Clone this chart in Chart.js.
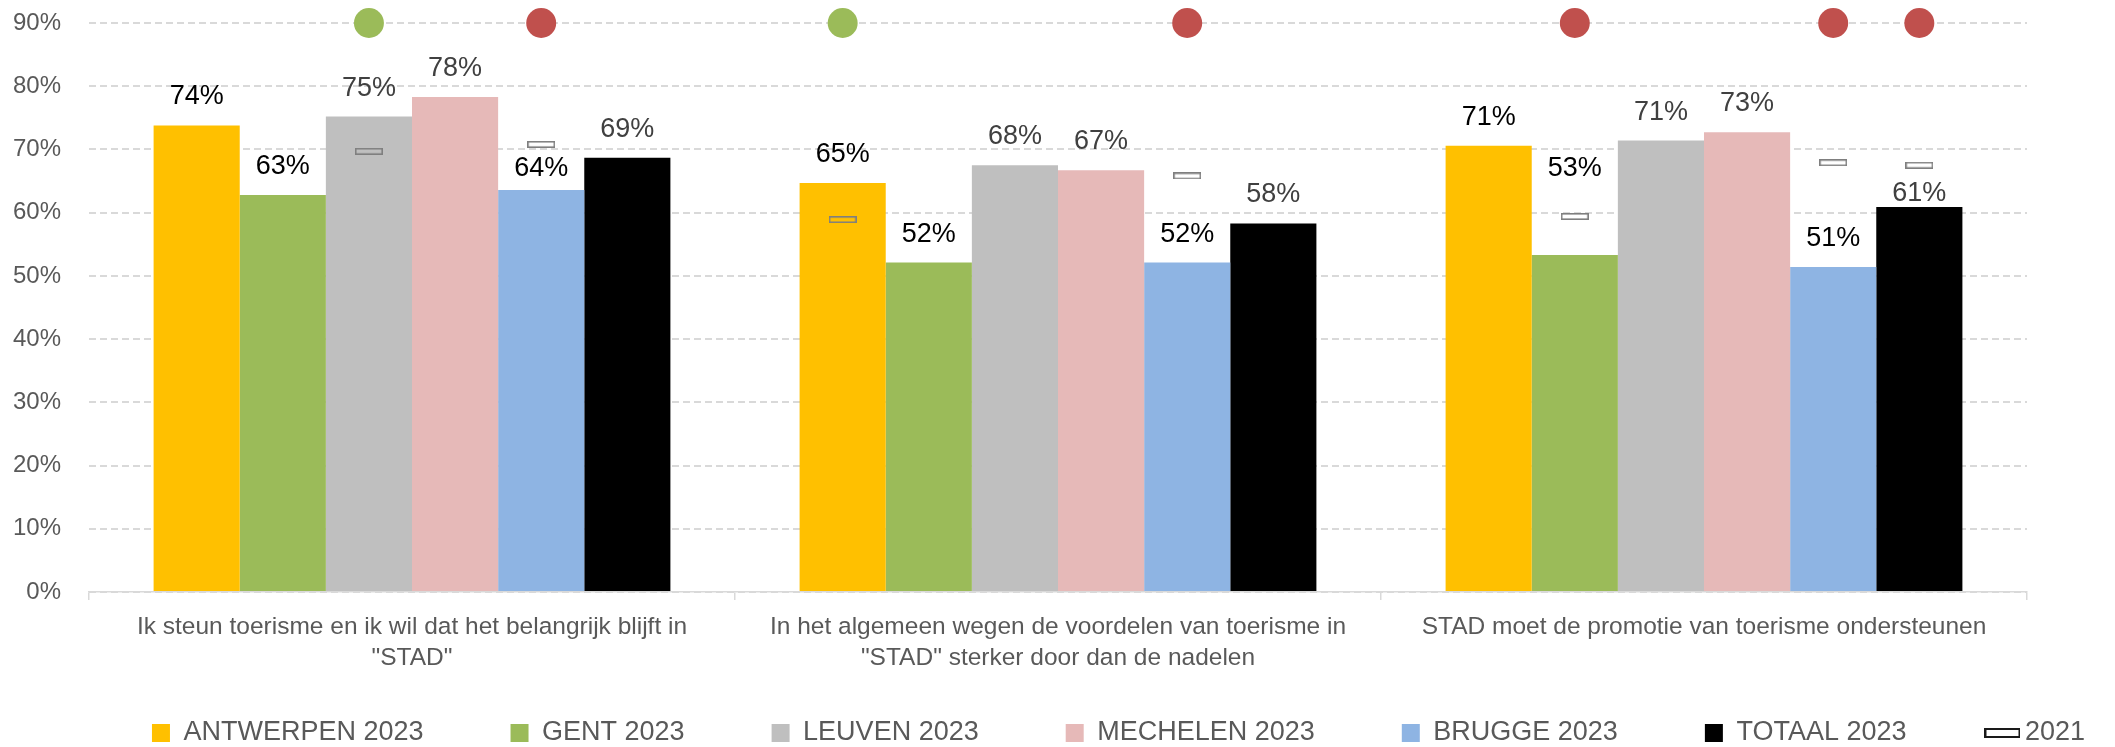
<!DOCTYPE html>
<html>
<head>
<meta charset="utf-8">
<title>Toerisme draagvlak</title>
<script src="https://cdn.jsdelivr.net/npm/chart.js@4.4.1/dist/chart.umd.min.js"></script>
<style>
  html, body { margin: 0; padding: 0; background: #ffffff; }
</style>
</head>
<body>
<canvas id="statsChart" width="2115" height="747"></canvas>
<script>
// categories (x axis, wrapped like in the original)
const categories = [
  ['Ik steun toerisme en ik wil dat het belangrijk blijft in', '"STAD"'],
  ['In het algemeen wegen de voordelen van toerisme in', '"STAD" sterker door dan de nadelen'],
  'STAD moet de promotie van toerisme ondersteunen'
];
const seriesNames = ['ANTWERPEN 2023', 'GENT 2023', 'LEUVEN 2023', 'MECHELEN 2023', 'BRUGGE 2023', 'TOTAAL 2023'];
const refName = '2021';

// 2023 scores in %
const antwerpen = [73.8, 64.7, 70.6];
const gent = [62.8, 52.1, 53.3];
const leuven = [75.2, 67.5, 71.4];
const mechelen = [78.3, 66.7, 72.7];
const brugge = [63.6, 52.1, 51.4];
const totaal = [68.7, 58.3, 60.9];

// 2021 reference (only where shown)
const antwerpen2021 = [null, 58.9, null];
const gent2021 = [null, null, 59.4];
const leuven2021 = [69.7, null, null];
const mechelen2021 = [null, null, null];
const brugge2021 = [70.8, 65.8, 67.9];
const totaal2021 = [null, null, 67.5];

// significant change vs 2021: 1 = up, -1 = down
const antwerpenSig = [0, 1, 0];
const gentSig = [0, 0, -1];
const leuvenSig = [1, 0, 0];
const mechelenSig = [0, 0, 0];
const bruggeSig = [-1, -1, -1];
const totaalSig = [0, 0, -1];

const yTicks = [0, 10, 20, 30, 40, 50, 60, 70, 80, 90];

const values2023 = [antwerpen, gent, leuven, mechelen, brugge, totaal];
const values2021 = [antwerpen2021, gent2021, leuven2021, mechelen2021, brugge2021, totaal2021];
const sigFlags = [antwerpenSig, gentSig, leuvenSig, mechelenSig, bruggeSig, totaalSig];

const barColors = ['#FFC000', '#9BBB59', '#BFBFBF', '#E6B9B8', '#8EB4E3', '#000000'];
const labelColors = ['#000000', '#000000', '#404040', '#404040', '#000000', '#404040'];
const FONT = "'Liberation Sans', Arial, sans-serif";
// a few labels that were moved by hand in the original
const labelLift = { '4-0': 14, '1-2': 79, '5-2': 6 };

// little hollow rectangle used for the 2021 value
const makeMarker = (w, h, color, lw, fill) => {
  const c = document.createElement('canvas');
  c.width = w; c.height = h;
  const g = c.getContext('2d');
  if (fill) { g.fillStyle = fill; g.fillRect(0, 0, w, h); }
  g.strokeStyle = color;
  g.lineWidth = lw;
  g.strokeRect(lw / 2, lw / 2, w - lw, h - lw);
  return c;
};
const chartMarker = makeMarker(28, 7, '#7F7F7F', 1.6, null);
const legendMarker = makeMarker(36, 10, '#1a1a1a', 2, '#ffffff');

// 2021 markers + significance dots, placed on the bars of each series
const refMarks = {
  id: 'refMarks',
  afterDatasetsDraw(chart) {
    const ctx = chart.ctx;
    const y = chart.scales.y;
    const top = y.getPixelForValue(yTicks[yTicks.length - 1]);
    ctx.save();
    values2023.forEach((vals, k) => {
      chart.getDatasetMeta(k).data.forEach((bar, i) => {
        const ref = values2021[k][i];
        if (ref !== null) {
          const py = y.getPixelForValue(ref);
          ctx.drawImage(chartMarker, bar.x - chartMarker.width / 2, py - chartMarker.height / 2);
        }
        const f = sigFlags[k][i];
        if (f !== 0) {
          ctx.fillStyle = f > 0 ? '#9BBB59' : '#C0504D';
          ctx.beginPath();
          ctx.arc(bar.x, top, 15, 0, Math.PI * 2);
          ctx.fill();
        }
      });
    });
    ctx.restore();
  }
};

const barLabels = {
  id: 'barLabels',
  afterDatasetsDraw(chart) {
    const ctx = chart.ctx;
    ctx.save();
    ctx.font = '27px ' + FONT;
    ctx.textAlign = 'center';
    ctx.textBaseline = 'alphabetic';
    values2023.forEach((vals, k) => {
      chart.getDatasetMeta(k).data.forEach((bar, i) => {
        const lift = labelLift[k + '-' + i] ?? 21;
        ctx.fillStyle = labelColors[k];
        ctx.fillText(Math.round(vals[i]) + '%', bar.x, bar.y - lift);
      });
    });
    ctx.restore();
  }
};

// the legend in the original sits off-centre; move it after layout
const legendNudge = {
  id: 'legendNudge',
  afterLayout(chart) {
    const lg = chart.legend;
    lg.left += 61; lg.right += 61;
    lg.top -= 43.5; lg.bottom -= 43.5;
  }
};

const MakeChart = () => {
  Chart.defaults.font.family = FONT;
  Chart.defaults.color = '#595959';

  const ctx = document.getElementById('statsChart').getContext('2d');
  new Chart(ctx, {
    type: 'bar',
    data: {
      labels: categories,
      datasets: values2023.map((vals, k) => ({
        label: seriesNames[k],
        data: vals,
        backgroundColor: barColors[k],
        borderWidth: 0,
        pointStyle: 'rect',
        categoryPercentage: 0.8,
        barPercentage: 1.0
      }))
    },
    options: {
      responsive: false,
      animation: false,
      layout: { padding: { top: 23, left: 0, right: 0, bottom: -53 } },
      scales: {
        x: {
          ticks: {
            color: '#595959',
            font: { size: 24.5, lineHeight: 1.27 },
            padding: 11.5,
            maxRotation: 0,
            autoSkip: false
          },
          grid: { drawOnChartArea: false, drawTicks: true, tickLength: 8, color: '#D9D9D9', lineWidth: 1.5 },
          border: { display: true, color: '#D9D9D9', width: 1.5 },
          afterFit: s => { s.height = 84; }
        },
        y: {
          min: 0,
          max: 90,
          afterBuildTicks: s => { s.ticks = yTicks.map(v => ({ value: v })); },
          ticks: {
            callback: v => v + '%',
            color: '#595959',
            font: { size: 24 },
            padding: 0
          },
          // invisible tick marks give the gap between labels and plot
          grid: { color: '#D9D9D9', lineWidth: 2, drawTicks: true, tickLength: 28, tickColor: 'rgba(0,0,0,0)' },
          border: { display: false, dash: [7, 4] },
          afterFit: s => { s.width = 89; }
        },
        yr: {
          position: 'right',
          ticks: { display: false },
          grid: { display: false },
          border: { display: false },
          afterFit: s => { s.width = 88; }
        }
      },
      plugins: {
        tooltip: { enabled: false },
        legend: {
          position: 'bottom',
          labels: {
            usePointStyle: true,
            pointStyleWidth: 18,
            boxHeight: 18,
            padding: 87,
            color: '#595959',
            font: { size: 27 },
            generateLabels: chart => {
              const items = Chart.defaults.plugins.legend.labels.generateLabels(chart);
              items.push({
                text: refName,
                pointStyle: legendMarker,
                fillStyle: '#ffffff',
                strokeStyle: '#1a1a1a',
                lineWidth: 0,
                fontColor: '#595959',
                hidden: false
              });
              return items;
            }
          }
        }
      }
    },
    plugins: [refMarks, barLabels, legendNudge]
  });
};

MakeChart();
</script>
</body>
</html>
